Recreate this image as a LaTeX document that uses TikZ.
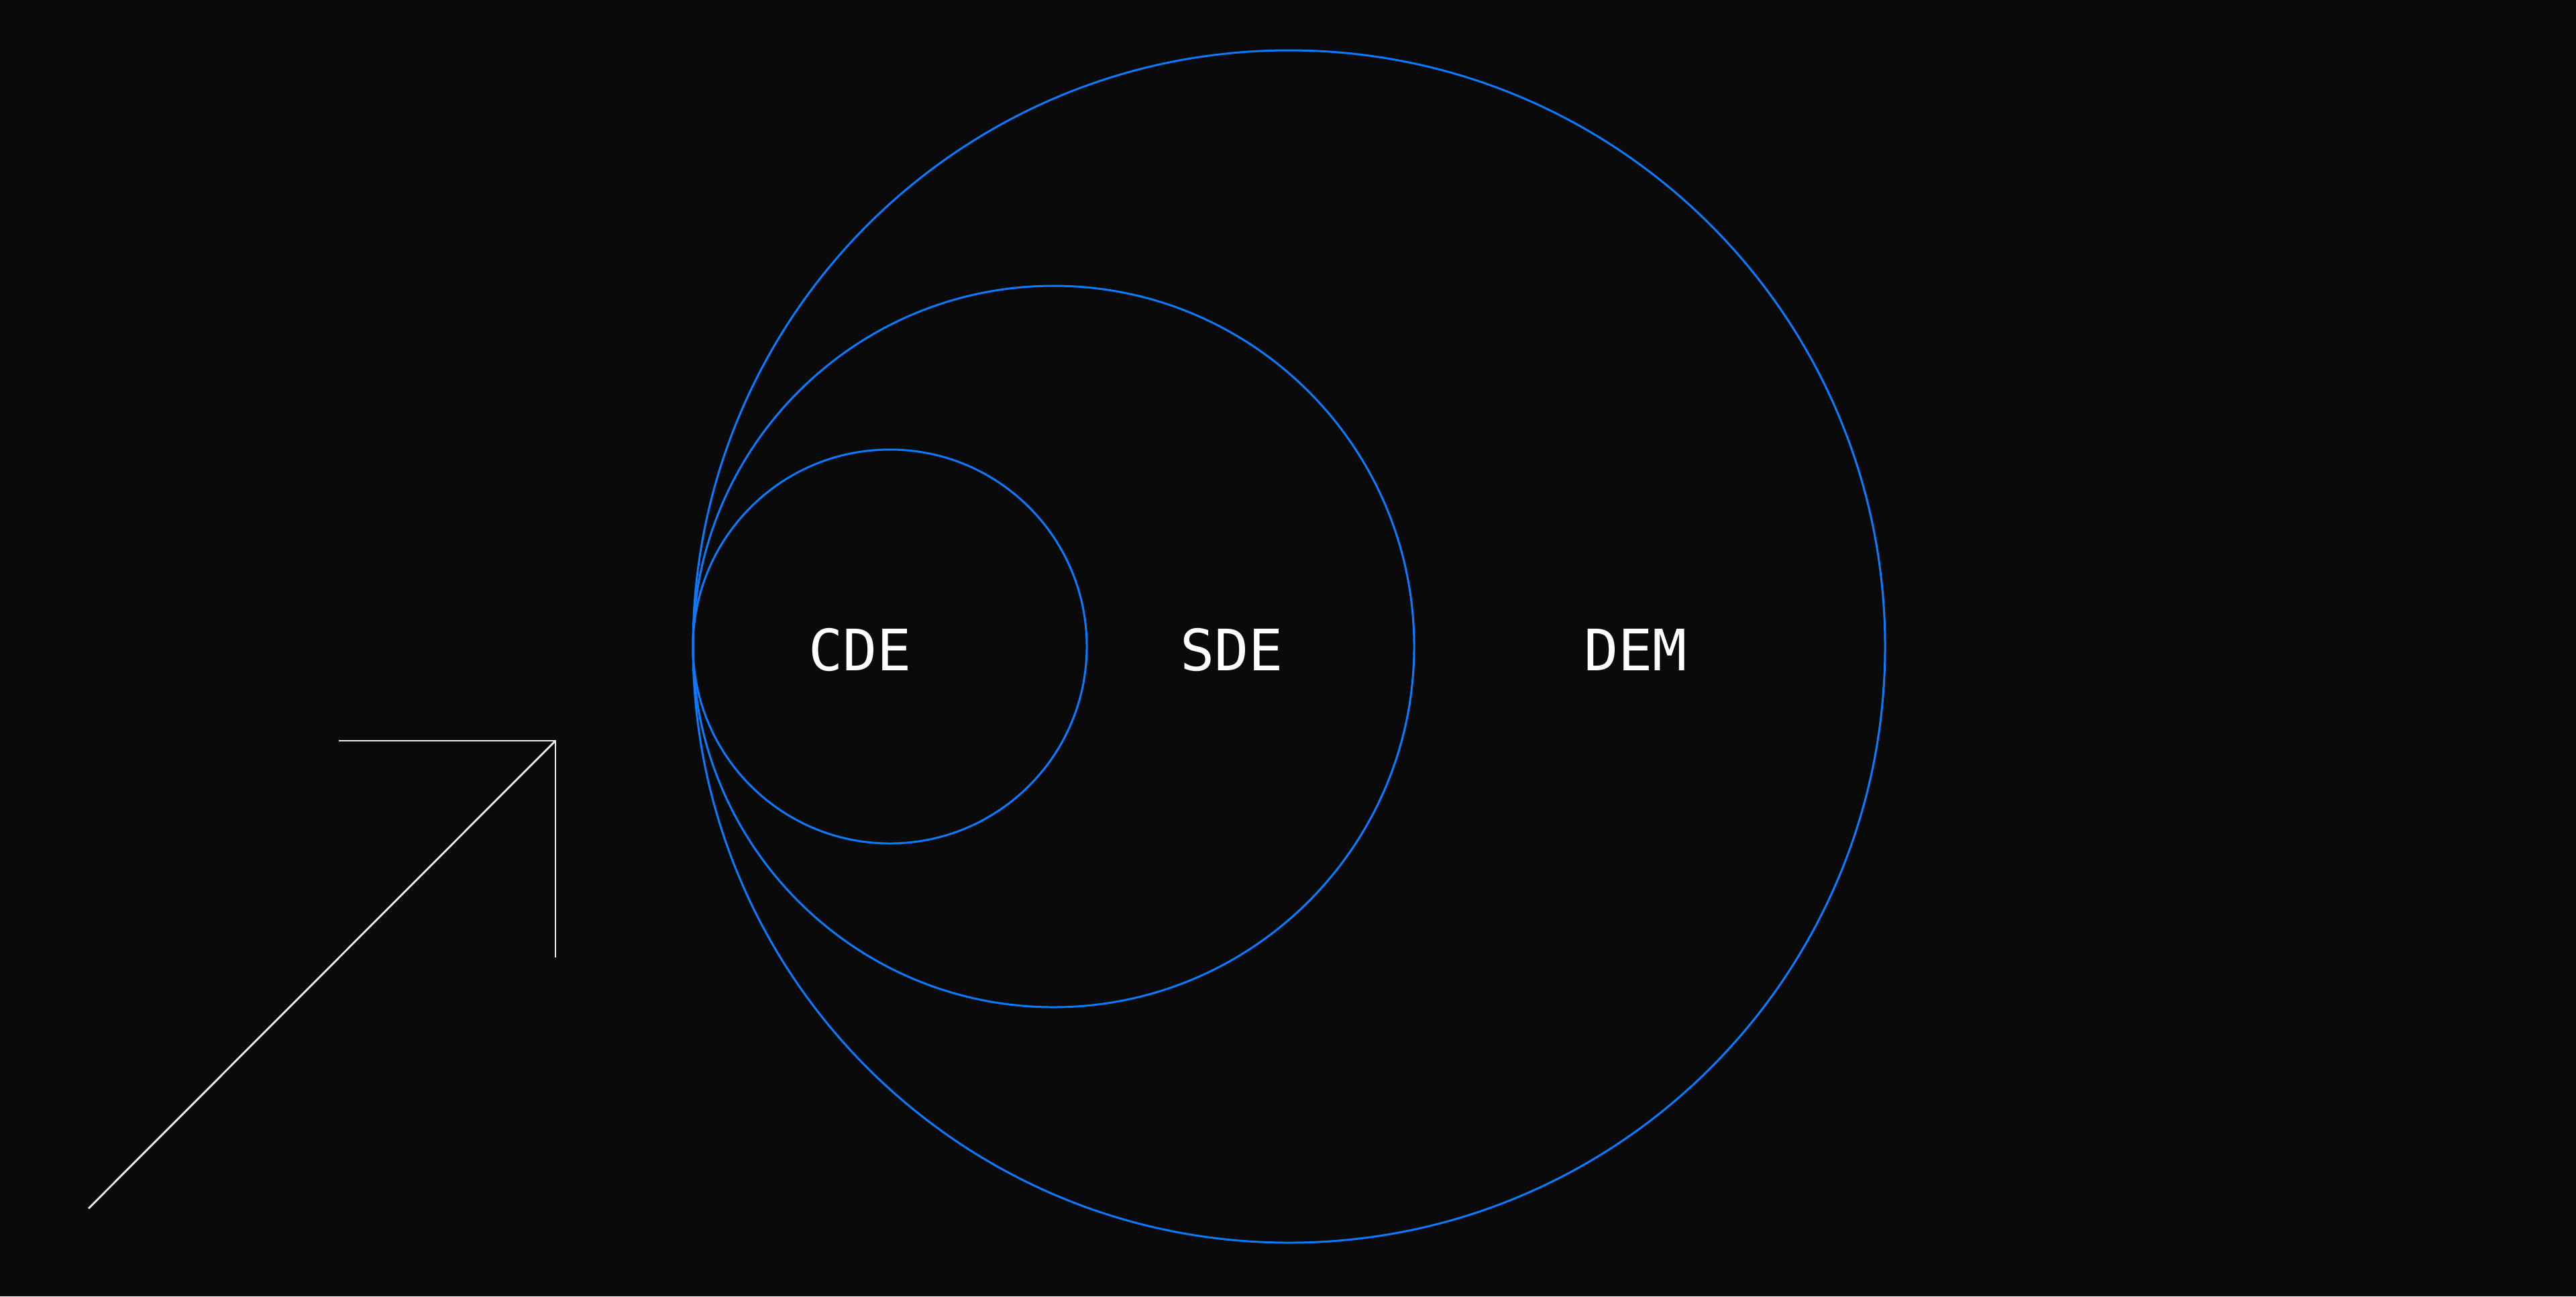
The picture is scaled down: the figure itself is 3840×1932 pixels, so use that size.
\documentclass[tikz,border=0pt]{standalone}
\usepackage{fontspec}
\setmonofont{DejaVu Sans Mono}
\definecolor{bgdark}{HTML}{0A0A0A}
\definecolor{ringblue}{HTML}{0A7AFF}
\definecolor{penwhite}{HTML}{EDEDED}

\begin{document}
\begin{tikzpicture}[x=0.01cm,y=-0.01cm,
  ring/.style={draw=ringblue,line width=0.85pt},
  penline/.style={draw=penwhite,line width=0.8pt},
  tag/.style={text=white,anchor=base,inner sep=0pt,font=\ttfamily\fontsize{24.2pt}{24.2pt}\selectfont}]
\fill[bgdark] (0,0) rectangle (3840,1932);
\useasboundingbox (0,0) rectangle (3840,1932);
% nested circles, all touching at the left
\draw[ring] (1921.5,963.5) circle[radius=888.5];
\draw[ring] (1570.5,963.5) circle[radius=537.5];
\draw[ring] (1326.5,963.5) circle[radius=293.5];
\node[tag] (cde) at (1282,999) {CDE};
\node[tag] (sde) at (1836,999) {SDE};
\node[tag] (dem) at (2438,999) {DEM};
% arrow
\coordinate (tail) at (132,1801);
\coordinate (tip) at (828,1104);
\coordinate (barl) at (505,1104);
\coordinate (bard) at (828,1427);
\draw[penline] (tail) -- (tip);
\draw[penline] (barl) -- (tip) -- (bard);
\end{tikzpicture}
\end{document}
